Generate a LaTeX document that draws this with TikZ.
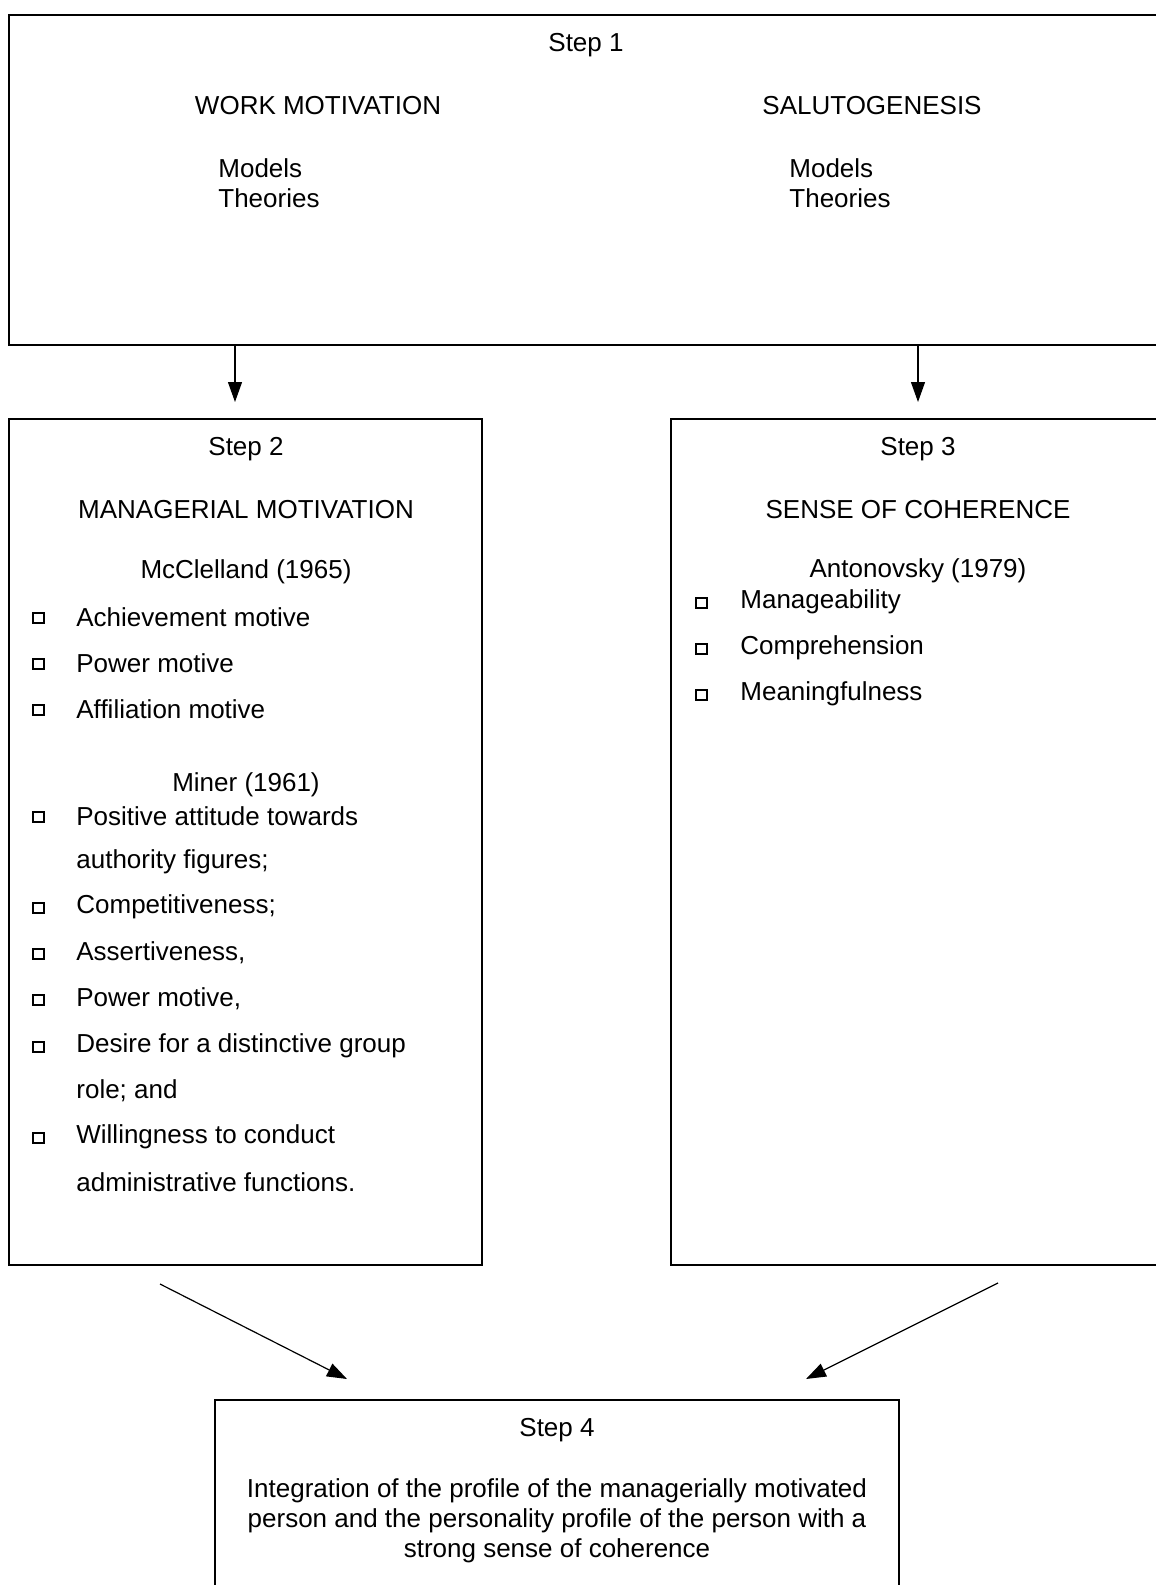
\documentclass[tikz,border=0pt]{standalone}
\usepackage{fontspec}
\setmainfont{Liberation Sans}
\usetikzlibrary{arrows.meta}
\tikzset{
	box/.style={shape=rectangle, draw, line width=0.8pt, inner sep=0},
	txt/.style={inner sep=0, yshift=-1.5pt, font=\fontsize{13}{15}\selectfont},
	item/.style={txt, anchor=west},
	chk/.style={shape=rectangle, draw, line width=1pt, inner sep=0, yshift=-1.5pt, minimum width=5.5pt, minimum height=5pt},
	arr/.style={-{Triangle[length=10pt, width=7pt]}, line width=0.6pt}
}
\begin{document}
\begin{tikzpicture}[x=0.5pt, y=-0.5pt]
	\useasboundingbox (0,0) rectangle (1156,1585);
	\clip (0,0) rectangle (1156,1585);
	% boxes
	\node[box, minimum width=583pt, minimum height=165pt] (step1) at (592, 180){};
	\node[box, minimum width=236.5pt, minimum height=423pt] (step2) at (245.5, 842){};
	\node[box, minimum width=252pt, minimum height=423pt] (step3) at (923, 842){};
	\node[box, minimum width=342pt, minimum height=110pt] (step4) at (557, 1510){};
	% arrow ends
	\coordinate (a2) at (235, 402);
	\coordinate (a3) at (918, 402);
	\coordinate (b2) at (160, 1284);
	\coordinate (b3) at (998, 1283);
	\coordinate (a4l) at (347, 1379);
	\coordinate (a4r) at (806, 1379);
	\draw[arr] (step1.south -| a2) -- (a2);
	\draw[arr] (step1.south -| a3) -- (a3);
	\draw[arr] (b2) -- (a4l);
	\draw[arr] (b3) -- (a4r);
	% step 1
	\node[txt] (s1) at (586, 42) {Step 1};
	\node[txt] (wm) at (318, 103) {WORK MOTIVATION};
	\node[txt] (sg) at (872, 103) {SALUTOGENESIS};
	\node[item] (wm1) at (218, 165) {Models};
	\node[item] (wm2) at (218, 195) {Theories};
	\node[item] (sg1) at (789, 165) {Models};
	\node[item] (sg2) at (789, 195) {Theories};
	% step 2
	\node[txt] (s2) at (246, 446) {Step 2};
	\node[txt] (mm) at (246, 507) {MANAGERIAL MOTIVATION};
	\node[txt] (mc) at (246, 569) {McClelland (1965)};
	\node[chk] (c1) at (38, 615) {};
	\node[item] (i1) at (76, 614) {Achievement motive};
	\node[chk] (c2) at (38, 661) {};
	\node[item] (i2) at (76, 660) {Power motive};
	\node[chk] (c3) at (38, 707) {};
	\node[item] (i3) at (76, 706) {Affiliation motive};
	\node[txt] (mi) at (246, 782) {Miner (1961)};
	\node[chk] (c4) at (38, 814) {};
	\node[item] (i4) at (76, 813) {Positive attitude towards};
	\node[item] (i4b) at (76, 859) {authority figures;};
	\node[chk] (c5) at (38, 905) {};
	\node[item] (i5) at (76, 904) {Competitiveness;};
	\node[chk] (c6) at (38, 951) {};
	\node[item] (i6) at (76, 950) {Assertiveness,};
	\node[chk] (c7) at (38, 997) {};
	\node[item] (i7) at (76, 996) {Power motive,};
	\node[chk] (c8) at (38, 1044) {};
	\node[item] (i8) at (76, 1043) {Desire for a distinctive group};
	\node[item] (i8b) at (76, 1088) {role; and};
	\node[chk] (c9) at (38, 1135) {};
	\node[item] (i9) at (76, 1134) {Willingness to conduct};
	\node[item] (i9b) at (76, 1179) {administrative functions.};
	% step 3
	\node[txt] (s3) at (918, 446) {Step 3};
	\node[txt] (sc) at (918, 507) {SENSE OF COHERENCE};
	\node[txt] (an) at (918, 568) {Antonovsky (1979)};
	\node[chk] (d1) at (701, 600) {};
	\node[item] (j1) at (740, 599) {Manageability};
	\node[chk] (d2) at (701, 646) {};
	\node[item] (j2) at (740, 645) {Comprehension};
	\node[chk] (d3) at (701, 692) {};
	\node[item] (j3) at (740, 691) {Meaningfulness};
	% step 4
	\node[txt] (s4) at (557, 1427) {Step 4};
	\node[txt, align=center] (ig) at (557, 1518) {Integration of the profile of the managerially motivated\\person and the personality profile of the person with a\\strong sense of coherence};
\end{tikzpicture}
\end{document}
